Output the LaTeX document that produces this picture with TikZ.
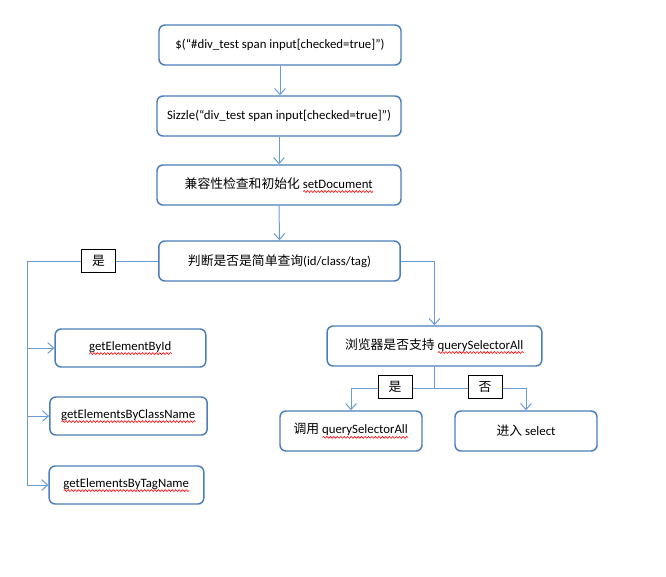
\documentclass[tikz,border=0pt]{standalone}
\usepackage{fontspec}
\setmainfont{Carlito}
\newfontfamily\cjk{Noto Sans CJK SC}
\usepackage{tikz}
\usetikzlibrary{arrows.meta,positioning,decorations.pathmorphing}
\definecolor{boxblue}{RGB}{74,126,187}
\definecolor{lineblue}{RGB}{105,155,215}
% red spell-check wave under a word
\newsavebox\spellbox
\newlength\spellwd
\newcommand\spell[1]{\sbox\spellbox{#1}\setlength\spellwd{\wd\spellbox}%
  \rlap{\usebox\spellbox}%
  \tikz[baseline=0pt]\draw[red, line width=0.45pt, rounded corners=0pt, decorate,
    decoration={snake, amplitude=0.7pt, segment length=2.6pt}]
    (0pt,-2.6pt) -- (\spellwd,-2.6pt);}

\begin{document}
\begin{tikzpicture}[
    x=0.75pt, y=-0.75pt,
    box/.style={rectangle, rounded corners=4.5pt, draw=boxblue, line width=1.1pt,
                minimum height=30pt, align=center,
                fill=white, font=\fontsize{9.6}{11.5}\selectfont},
    tag/.style={rectangle, draw=black, line width=0.6pt, fill=white,
                minimum width=25.5pt, minimum height=17pt, inner sep=0pt,
                font=\cjk\fontsize{9.6}{11.5}\selectfont},
    arrow/.style={-{Straight Barb[length=4.5pt, width=8pt]}, draw=lineblue, line width=0.75pt},
    link/.style={draw=lineblue, line width=0.75pt}
]
\useasboundingbox (0,0) rectangle (666,576);

% ================= COORDINATES & NODES =================
\node[box, minimum width=181.5pt] (Dollar) at (280, 45) {\$(“\#div\_test span input[checked=true]”)};

\node[box, minimum width=183pt] (Sizzle) at (279, 116) {Sizzle(“div\_test span input[checked=true]”)};

\node[box, minimum width=183pt] (Compat) at (279, 185) {{\cjk 兼容性检查和初始化} \spell{setDocument}};

\node[box, minimum width=181pt] (Simple) at (279.5, 261) {{\cjk 判断是否是简单查询}(id/class/tag)};

\node[box, minimum width=113pt, minimum height=28.5pt] (ById) at (130.5, 348) {\spell{getElementById}};

\node[box, minimum width=118pt, minimum height=28.5pt] (ByClass) at (128.5, 416) {\spell{getElementsByClassName}};

\node[box, minimum width=116pt, minimum height=28.5pt] (ByTag) at (126.5, 485) {\spell{getElementsByTagName}};

\node[box, minimum width=161pt] (Check) at (434.5, 346) {{\cjk 浏览器是否支持} \spell{querySelectorAll}};

\node[box, minimum width=106.5pt] (Call) at (351, 431) {{\cjk 调用} \spell{querySelectorAll}};

\node[box, minimum width=106.5pt] (Select) at (526, 431) {{\cjk 进入} select};

\coordinate (Trunk) at (27, 261);
\coordinate (Split) at (434.5, 388);

% ================= DRAWING ARROWS =================
\draw[arrow] (Dollar.south) -- (Dollar.south |- Sizzle.north);
\draw[arrow] (Sizzle.south) -- (Compat.north);
\draw[arrow] (Compat.south) -- (Simple.north);
\draw[link] (Simple.west) -- (Trunk) -- (Trunk |- ByTag.west);
\draw[arrow] (Trunk |- ById.west) -- (ById.west);
\draw[arrow] (Trunk |- ByClass.west) -- (ByClass.west);
\draw[arrow] (Trunk |- ByTag.west) -- (ByTag.west);
\draw[arrow] (Simple.east) -| (Check.north);
\draw[link] (Check.south) -- (Split);
\draw[arrow] (Split) -| (Call.north);
\draw[arrow] (Split) -| (Select.north);

\node[tag] (YesSimple) at (98.5, 261) {是};
\node[tag] (YesQsa) at (395, 387) {是};
\node[tag] (NoQsa) at (485, 387) {否};

\end{tikzpicture}
\end{document}
